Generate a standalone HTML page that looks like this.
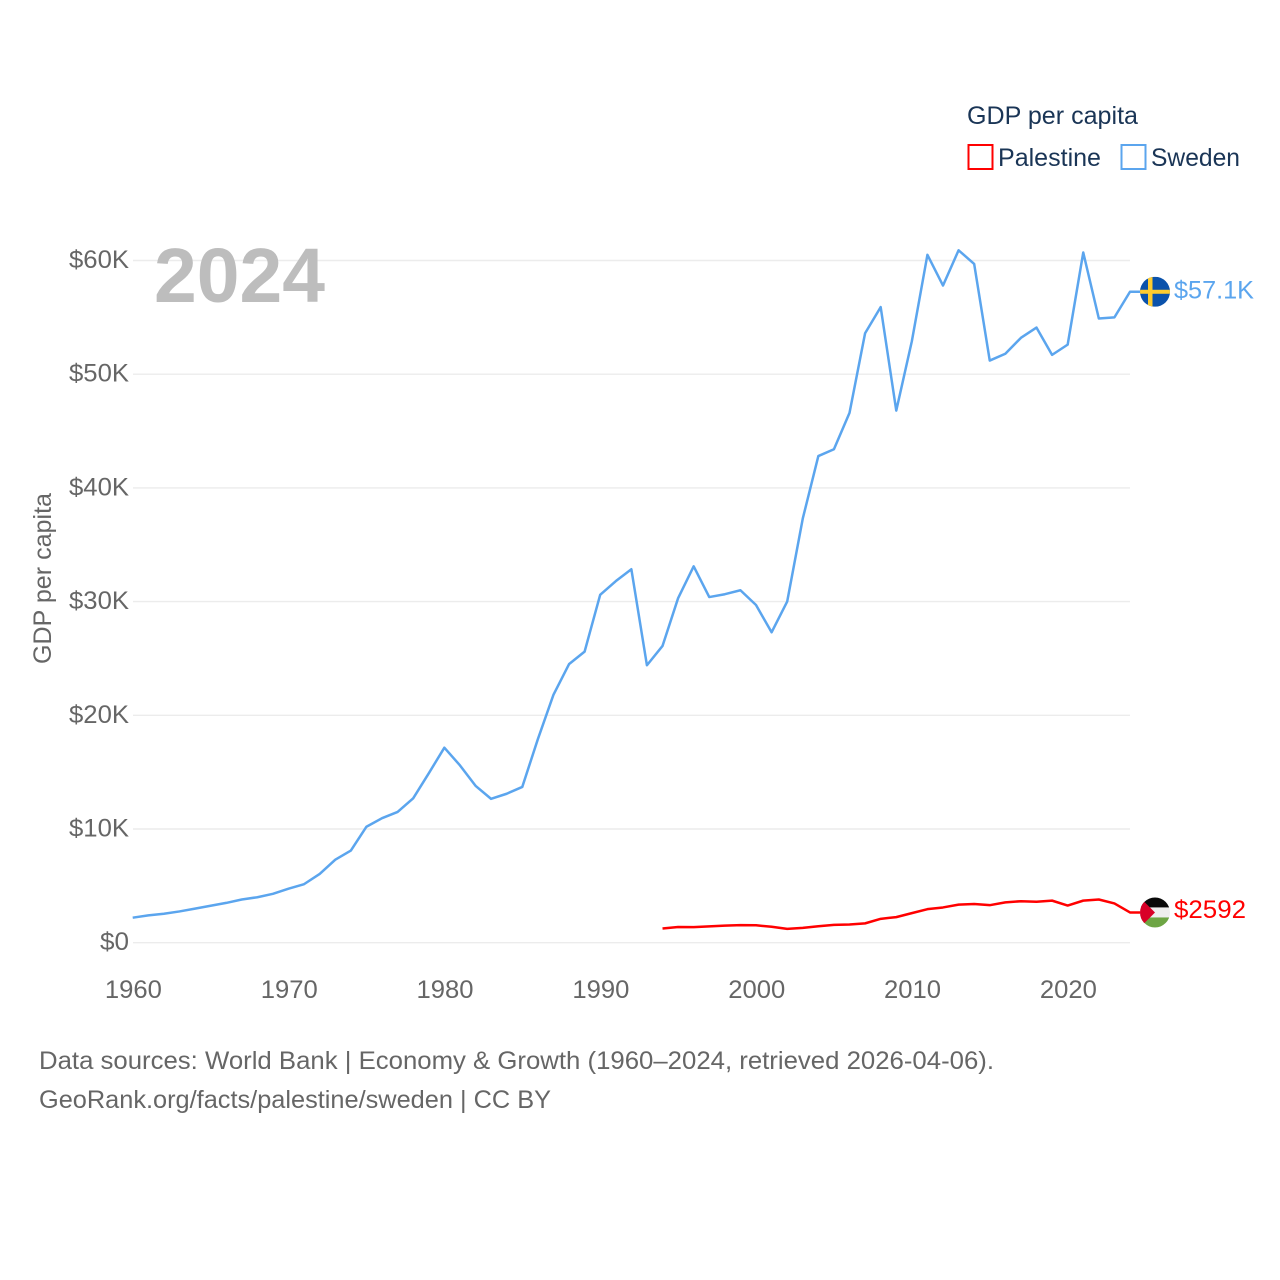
<!DOCTYPE html>
<html lang="en">
<head>
<meta charset="utf-8">
<title>GDP per capita: Palestine vs Sweden</title>
<style>
html,body{margin:0;padding:0;background:#fff;width:1280px;height:1280px;overflow:hidden}
svg{display:block}
text{font-family:"Liberation Sans",sans-serif;font-size:25px}
</style>
</head>
<body>
<svg id="chart" xmlns="http://www.w3.org/2000/svg" width="1280" height="1280" viewBox="0 0 1280 1280">
  <defs>
    <clipPath id="flag-clip-se"><circle id="clip-se" cx="1155" cy="292" r="15"></circle></clipPath>
    <clipPath id="flag-clip-ps"><circle id="clip-ps" cx="1155" cy="913" r="15"></circle></clipPath>
  </defs>
  <rect width="1280" height="1280" fill="#fff"></rect>

  <g id="grid"></g>
  <g id="yticks"></g>
  <g id="xticks"></g>

  <text transform="translate(51 664) rotate(-90)" x="0" y="0" fill="#666" textLength="171" lengthAdjust="spacingAndGlyphs">GDP per capita</text>
  <text x="154" y="302" fill="#bdbdbd" style="font-size:77px;font-weight:bold" textLength="171" lengthAdjust="spacingAndGlyphs">2024</text>

  <path id="line-sweden" fill="none" stroke="#5ba5ee" stroke-width="2.5" stroke-linejoin="round"></path>
  <path id="line-palestine" fill="none" stroke="#ff0000" stroke-width="2.5" stroke-linejoin="round"></path>

  <g id="flag-sweden" clip-path="url(#flag-clip-se)">
    <rect id="se-bg" x="1140" y="277" width="30" height="30" fill="#0b52ab"></rect>
    <rect id="se-v" x="1148" y="277" width="4.5" height="30" fill="#fecc2f"></rect>
    <rect id="se-h" x="1140" y="290" width="30" height="4" fill="#fecc2f"></rect>
  </g>
  <g id="flag-palestine" clip-path="url(#flag-clip-ps)">
    <rect id="ps-k" x="1140" y="898" width="30" height="10" fill="#0a0a0a"></rect>
    <rect id="ps-w" x="1140" y="908" width="30" height="10" fill="#eeeeee"></rect>
    <rect id="ps-g" x="1140" y="918" width="30" height="10" fill="#6da544"></rect>
    <polygon id="ps-r" points="1140,898 1155,913 1140,928" fill="#d80027"></polygon>
  </g>
  <text id="label-sweden" x="1174" y="298" fill="#5ba5ee" textLength="80" lengthAdjust="spacingAndGlyphs"></text>
  <text id="label-palestine" x="1174" y="918" fill="#ff0000" textLength="72" lengthAdjust="spacingAndGlyphs"></text>

  <g>
    <text x="967" y="124" fill="#1a3556" textLength="171" lengthAdjust="spacingAndGlyphs">GDP per capita</text>
    <g>
      <rect x="968.5" y="145" width="24" height="24" fill="#fff" stroke="#ff0000" stroke-width="2"></rect>
      <text x="998" y="166" fill="#1a3556" textLength="103" lengthAdjust="spacingAndGlyphs">Palestine</text>
    </g>
    <g>
      <rect x="1121.5" y="145" width="24" height="24" fill="#fff" stroke="#5ba5ee" stroke-width="2"></rect>
      <text x="1151" y="166" fill="#1a3556" textLength="89" lengthAdjust="spacingAndGlyphs">Sweden</text>
    </g>
  </g>

  <text x="39" y="1069" fill="#666" textLength="955" lengthAdjust="spacingAndGlyphs">Data sources: World Bank | Economy &amp; Growth (1960–2024, retrieved 2026-04-06).</text>
  <text x="39" y="1108" fill="#666" textLength="512" lengthAdjust="spacingAndGlyphs">GeoRank.org/facts/palestine/sweden | CC BY</text>
</svg>
<script>
// Chart data (GDP per capita, thousands of USD)
var yTickValues = [0, 10, 20, 30, 40, 50, 60];
var yTickLabels = ["$0", "$10K", "$20K", "$30K", "$40K", "$50K", "$60K"];
var xTickYears = [1960, 1970, 1980, 1990, 2000, 2010, 2020];
var swedenStartYear = 1960;
var swedenValues = [2.2, 2.4, 2.55, 2.75, 3.0, 3.25, 3.5, 3.8, 4.0, 4.3,
  4.75, 5.15, 6.05, 7.3, 8.1, 10.2, 10.95, 11.5, 12.7, 14.9,
  17.15, 15.6, 13.8, 12.65, 13.1, 13.7, 17.9, 21.8, 24.5, 25.6,
  30.6, 31.8, 32.85, 24.4, 26.1, 30.3, 33.1, 30.4, 30.65, 31.0,
  29.7, 27.3, 30.0, 37.3, 42.8, 43.4, 46.6, 53.6, 55.9, 46.8,
  52.9, 60.5, 57.8, 60.9, 59.7, 51.2, 51.8, 53.2, 54.1, 51.7,
  52.6, 60.7, 54.9, 55.0, 57.25];
var palestineStartYear = 1994;
var palestineValues = [1.25, 1.38, 1.37, 1.44, 1.5, 1.55, 1.53, 1.4, 1.22, 1.3,
  1.45, 1.57, 1.6, 1.7, 2.1, 2.25, 2.6, 2.95, 3.1, 3.35,
  3.4, 3.3, 3.55, 3.65, 3.6, 3.7, 3.27, 3.7, 3.8, 3.45, 2.66];
var swedenPrinted = "$57.1K";
var palestinePrinted = "$2592";

var NS = "http://www.w3.org/2000/svg";
function xScale(year) { return 132.7 + (year - 1960) * (1130 - 132.7) / 64; }
function yScale(v) { return 942.7 - v * 11.37; }

function makeText(str, x, y, anchor, len) {
  var t = document.createElementNS(NS, "text");
  t.setAttribute("x", x);
  t.setAttribute("y", y);
  t.setAttribute("fill", "#666");
  t.setAttribute("text-anchor", anchor);
  t.setAttribute("textLength", len);
  t.setAttribute("lengthAdjust", "spacingAndGlyphs");
  t.textContent = str;
  return t;
}

var gridG = document.getElementById("grid");
var yG = document.getElementById("yticks");
var xG = document.getElementById("xticks");

yTickValues.forEach(function (v, i) {
  var l = document.createElementNS(NS, "line");
  
  
  l.setAttribute("x1", 133);
  l.setAttribute("x2", 1130);
  l.setAttribute("y1", yScale(v));
  l.setAttribute("y2", yScale(v));
  l.setAttribute("stroke", "#ececec");
  l.setAttribute("stroke-width", 1.4);
  gridG.appendChild(l);
  var label = yTickLabels[i];
  var t = makeText(label, 129, yScale(v) + 7.5, "end", label.length === 2 ? 29 : 60);
  
  
  yG.appendChild(t);
});

xTickYears.forEach(function (yr) {
  var t = makeText(String(yr), xScale(yr) + 0.7, 998, "middle", 57);
  
  
  xG.appendChild(t);
});

function linePath(values, startYear) {
  var d = "";
  values.forEach(function (v, i) {
    d += (i ? "L" : "M") + xScale(startYear + i).toFixed(2) + " " + yScale(v).toFixed(2);
  });
  var last = values[values.length - 1];
  d += "L" + (xScale(startYear + values.length - 1) + 12).toFixed(2) + " " + yScale(last).toFixed(2);
  return d;
}
document.getElementById("line-sweden").setAttribute("d", linePath(swedenValues, swedenStartYear));
document.getElementById("line-palestine").setAttribute("d", linePath(palestineValues, palestineStartYear));

// End-of-line markers follow the last data value
var seY = yScale(swedenValues[swedenValues.length - 1]);
var psY = yScale(palestineValues[palestineValues.length - 1]);
document.getElementById("clip-se").setAttribute("cy", seY);
document.getElementById("clip-ps").setAttribute("cy", psY);
document.getElementById("se-bg").setAttribute("y", seY - 15);
document.getElementById("se-v").setAttribute("y", seY - 15);
document.getElementById("se-h").setAttribute("y", seY - 2);
document.getElementById("ps-k").setAttribute("y", psY - 15);
document.getElementById("ps-w").setAttribute("y", psY - 5);
document.getElementById("ps-g").setAttribute("y", psY + 5);
document.getElementById("ps-r").setAttribute("points", "1140," + (psY - 15) + " 1155," + psY + " 1140," + (psY + 15));
var seLabel = document.getElementById("label-sweden");
seLabel.textContent = swedenPrinted;
seLabel.setAttribute("y", seY + 6.5);
var psLabel = document.getElementById("label-palestine");
psLabel.textContent = palestinePrinted;
psLabel.setAttribute("y", psY + 5.5);
</script>
</body>
</html>
